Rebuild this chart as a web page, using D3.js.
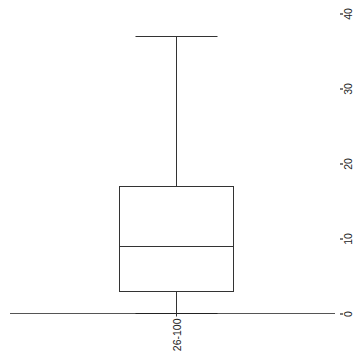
<!DOCTYPE html>
<html><head><meta charset="utf-8">
<script src="https://cdn.jsdelivr.net/npm/d3@7"></script>
<style>html,body{margin:0;padding:0;background:#fff;}svg{display:block;}</style>
</head><body>
<script>
const categories = ["26-100"];
const lowerWhisker = [0];
const q1 = [3];
const median = [9];
const q3 = [17];
const upperWhisker = [37];
const yTicks = [0, 10, 20, 30, 40];

const W = 358, H = 363;
const svg = d3.select("body").append("svg").attr("width", W).attr("height", H);
const y = d3.scaleLinear().domain([0, 40]).range([313.5, 13.5]);
const x = d3.scaleBand().domain(categories).range([10, 341]).paddingInner(0).paddingOuter(0);
const boxW = 114, capW = 82;
const col = "#333";

// baseline
svg.append("line").attr("x1", 10).attr("x2", 335).attr("y1", y(0)).attr("y2", y(0))
  .attr("stroke", "#555").attr("stroke-width", 1);

categories.forEach((c, i) => {
  const cx = Math.round(x(c) + x.bandwidth() / 2) + 0.5;
  const g = svg.append("g");
  g.append("line").attr("x1", cx).attr("x2", cx).attr("y1", y(upperWhisker[i])).attr("y2", y(q3[i])).attr("stroke", col);
  g.append("line").attr("x1", cx).attr("x2", cx).attr("y1", y(q1[i])).attr("y2", y(lowerWhisker[i])).attr("stroke", col);
  g.append("line").attr("x1", cx - capW / 2).attr("x2", cx + capW / 2).attr("y1", Math.round(y(upperWhisker[i])) + 0.5).attr("y2", Math.round(y(upperWhisker[i])) + 0.5).attr("stroke", col);
  g.append("line").attr("x1", cx - capW / 2).attr("x2", cx + capW / 2).attr("y1", y(lowerWhisker[i])).attr("y2", y(lowerWhisker[i])).attr("stroke", "#222");
  g.append("rect").attr("x", cx - boxW / 2).attr("width", boxW)
    .attr("y", Math.round(y(q3[i])) + 0.5).attr("height", Math.round(y(q1[i])) - Math.round(y(q3[i])))
    .attr("fill", "none").attr("stroke", col);
  g.append("line").attr("x1", cx - boxW / 2).attr("x2", cx + boxW / 2).attr("y1", Math.round(y(median[i])) + 0.5).attr("y2", Math.round(y(median[i])) + 0.5).attr("stroke", col);
  // x tick + label
  g.append("line").attr("x1", cx).attr("x2", cx).attr("y1", y(0)).attr("y2", y(0) + 3).attr("stroke", col);
  g.append("text").attr("transform", `translate(${cx + 4},${y(0) + 5}) rotate(-90)`)
    .attr("text-anchor", "end").attr("font-family", "Liberation Sans, Arial, sans-serif")
    .attr("font-size", 10.5).attr("fill", "#222").text(c);
});

// right axis
const ax = svg.append("g").attr("transform", "translate(340,0)");
ax.call(d3.axisRight(y).tickValues(yTicks).tickSize(3).tickFormat(d3.format("d")));
ax.select(".domain").remove();
ax.selectAll(".tick line").attr("stroke", "#222").attr("stroke-width", 1.2);
ax.selectAll(".tick text")
  .attr("font-family", "Liberation Sans, Arial, sans-serif").attr("font-size", 10.5).attr("fill", "#222")
  .attr("x", 0).attr("dy", 0).attr("text-anchor", "middle")
  .attr("transform", "translate(12,0) rotate(-90)");
</script>
</body></html>
